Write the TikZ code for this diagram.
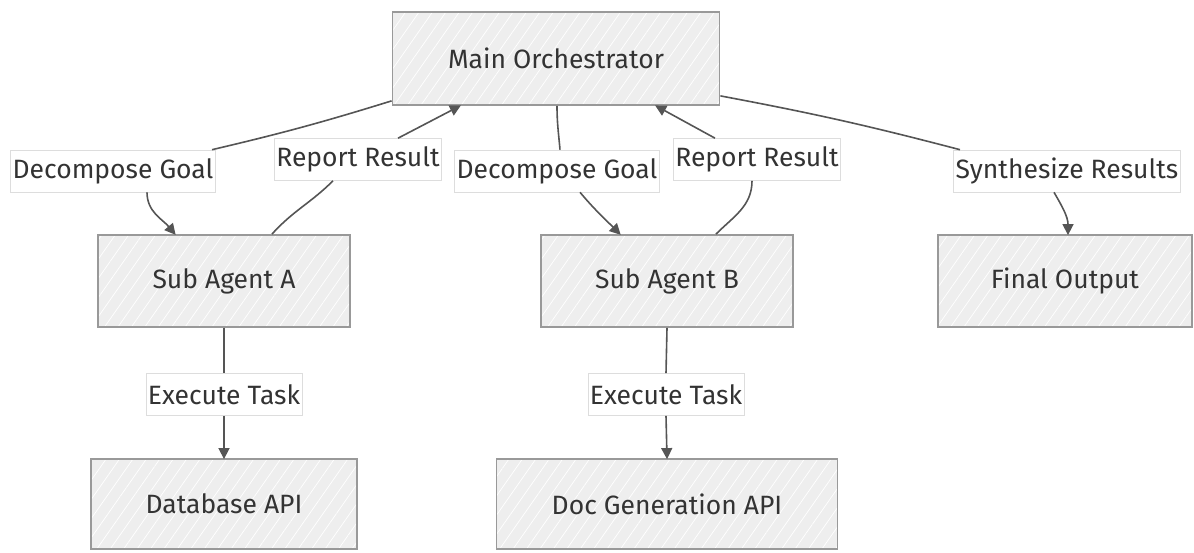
\documentclass[tikz,border=0pt]{standalone}
\usepackage{fontspec}
\setmainfont{Fira Sans}
\usetikzlibrary{arrows.meta,patterns.meta}
\definecolor{boxfill}{HTML}{EEEEEE}
\definecolor{boxline}{HTML}{999999}
\definecolor{edgec}{HTML}{555555}
\definecolor{lblline}{HTML}{DDDDDD}
\definecolor{txt}{HTML}{333333}
\tikzset{
  box/.style={preaction={fill=boxfill},
    preaction={pattern={Lines[angle=55,distance=11pt,line width=0.7pt]}, pattern color=white},
    draw=boxline, line width=1.8pt,
    inner sep=0pt, font=\fontsize{26.5}{30}\selectfont, text=txt},
  lbl/.style={draw=lblline, line width=0.6pt, fill=white, inner xsep=2pt, inner ysep=0pt,
    minimum height=42pt, font=\fontsize{26.5}{30}\selectfont, text=txt},
  ln/.style={draw=edgec, line width=1.6pt},
  arr/.style={ln, -{Triangle[length=11pt,width=11pt]}, shorten >=-1pt},
}
\begin{document}
\begin{tikzpicture}[x=1pt,y=1pt]
\useasboundingbox (0,0) rectangle (1194,553);
% nodes
\node[box, minimum width=327pt, minimum height=93pt] (main) at (556,494.5) {Main Orchestrator};
\node[box, minimum width=252pt, minimum height=92pt] (suba) at (224,272) {Sub Agent A};
\node[box, minimum width=252pt, minimum height=92pt] (subb) at (667,272) {Sub Agent B};
\node[box, minimum width=254pt, minimum height=92pt] (final) at (1065,272) {Final Output};
\node[box, minimum width=266pt, minimum height=90pt] (db) at (224,49) {Database API};
\node[box, minimum width=341pt, minimum height=90pt] (doc) at (667,49) {Doc Generation API};
% labels
\node[lbl] (d1) at (113,382) {Decompose Goal};
\node[lbl] (r1) at (358,393.5) {Report Result};
\node[lbl] (d2) at (557,382) {Decompose Goal};
\node[lbl] (r2) at (757,393.5) {Report Result};
\node[lbl] (syn) at (1067,382) {Synthesize Results};
\node[lbl] (e1) at (224,158.5) {Execute Task};
\node[lbl] (e2) at (666,158.5) {Execute Task};
% edges
\draw[ln] ([yshift=5pt]main.south west) to[bend left=2] ([xshift=99pt]d1.north);
\draw[arr] ([xshift=34pt]d1.south) to[out=-90,in=130] ([xshift=-49pt]suba.north);
\draw[ln] ([xshift=48pt]suba.north) to[out=48,in=-135] ([xshift=-25pt]r1.south);
\draw[arr] ([xshift=40pt]r1.north) -- ([xshift=-96pt]main.south);
\draw[ln] ([xshift=1pt]main.south) to[out=-90,in=95] ([xshift=3pt]d2.north);
\draw[arr] ([xshift=23pt]d2.south) to[out=-50,in=135] ([xshift=-47pt]subb.north);
\draw[ln] ([xshift=49pt]subb.north) to[out=45,in=-90] ([xshift=-5pt]r2.south);
\draw[arr] ([xshift=-42pt]r2.north) -- ([xshift=100pt]main.south);
\draw[ln] ([yshift=10pt]main.south east) to[bend left=2] ([xshift=-107pt]syn.north);
\draw[arr] ([xshift=-13pt]syn.south) to[out=-60,in=90] ([xshift=3pt]final.north);
\draw[ln] (suba.south) -- (e1.north);
\draw[arr] (e1.south) -- (db.north);
\draw[ln] (subb.south) -- (e2.north);
\draw[arr] (e2.south) -- (doc.north);
\end{tikzpicture}
\end{document}
